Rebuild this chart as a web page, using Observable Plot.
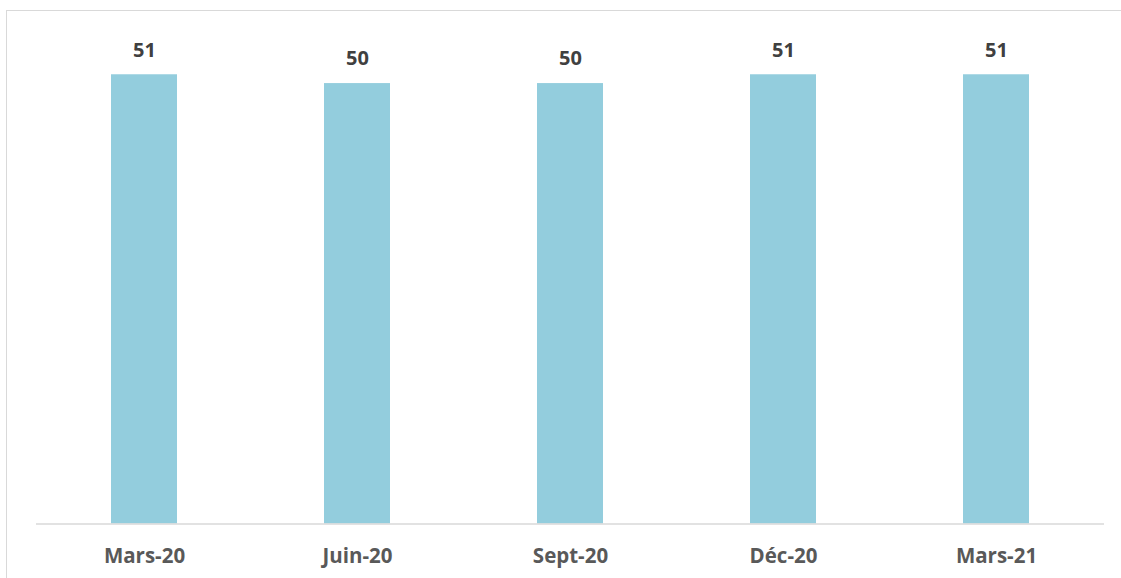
<!DOCTYPE html>
<html>
<head>
<meta charset="utf-8">
<script src="https://cdn.jsdelivr.net/npm/d3@7"></script>
<script src="https://cdn.jsdelivr.net/npm/@observablehq/plot@0.6"></script>
<style>
  html, body { margin: 0; padding: 0; background: #fff; overflow: hidden; width: 1121px; height: 578px; }
  #frame { position: absolute; left: 6px; top: 10px; width: 1300px; height: 800px; border-left: 1.3px solid #d9d9d9; border-top: 1.3px solid #d9d9d9; box-sizing: border-box; }
  #chart { position: absolute; left: 0; top: 0; }
</style>
</head>
<body>
<div id="frame"></div>
<div id="chart"></div>
<script>
const categories = ["Mars-20", "Juin-20", "Sept-20", "Déc-20", "Mars-21"];
const values = [51, 50, 50, 51, 51];

const data = categories.map((c, i) => ({ category: c, value: values[i] }));
const font = "'Open Sans', sans-serif";

const chart = Plot.plot({
  width: 1121,
  height: 578,
  marginLeft: 36,
  marginRight: 17,
  marginTop: 12.6,
  marginBottom: 54.5,
  style: { fontFamily: font, background: "transparent", overflow: "visible" },
  x: { domain: categories, paddingInner: 0.688, paddingOuter: 0.344, label: null },
  y: { domain: [0, 58], axis: null },
  marks: [
    Plot.barY(data, { x: "category", y: "value", fill: "#93cddd" }),
    Plot.ruleY([0], { stroke: "#d9d9d9", strokeWidth: 1.5 }),
    Plot.text(data, {
      x: "category", y: "value", text: d => String(d.value),
      dy: -24.5, fontSize: 20, fontWeight: "bold", fill: "#404040", fontFamily: font
    }),
    Plot.axisX({
      tickSize: 0, tickPadding: 24, fontSize: 20.5, fontWeight: "bold",
      fill: "#595959", label: null, fontFamily: font
    })
  ]
});
document.getElementById("chart").appendChild(chart);
</script>
</body>
</html>
